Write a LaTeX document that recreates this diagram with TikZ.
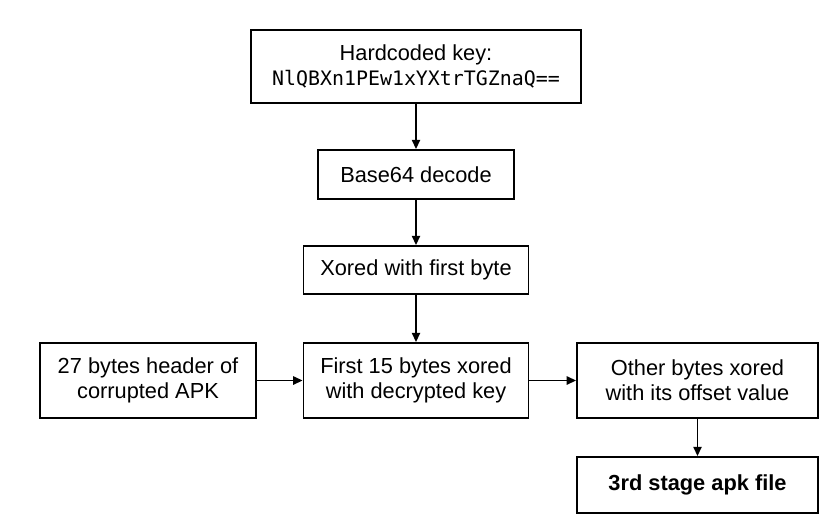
\documentclass[tikz,border=0pt]{standalone}
\usepackage{fontspec}
\setmainfont{Liberation Sans}
\newfontfamily\keyfont{DejaVu Sans Mono}
\usetikzlibrary{arrows.meta,positioning}

\begin{document}
\begin{tikzpicture}[x=0.03cm,y=-0.03cm,
	box/.style={draw,line width=1.5pt,align=center,inner sep=0pt,font=\fontsize{18.6}{21.5}\selectfont},
	flow/.style={-{Triangle[length=8pt,width=7pt]},line width=1.5pt}]
	\useasboundingbox (0,0) rectangle (835,524);

	\node[box,minimum width=9.9cm,minimum height=2.19cm] (key) at (416,66.5) {Hardcoded key:\\{\keyfont\fontsize{17}{21.5}\selectfont NlQBXn1PEw1xYXtrTGZnaQ==}};
	\node[box,minimum width=5.88cm,minimum height=1.47cm] (b64) at (416,174.5) {Base64 decode};
	\node[box,minimum width=6.75cm,minimum height=1.44cm] (xor1) at (416,270) {Xored with first byte};
	\node[box,minimum width=6.75cm,minimum height=2.25cm] (first15) at (416,380.5) {First 15 bytes xored\\with decrypted key};
	\node[box,minimum width=6.48cm,minimum height=2.25cm] (hdr) at (148,380.5) {27 bytes header of\\corrupted APK};
	\node[box,minimum width=7.23cm,minimum height=2.25cm] (other) at (697.5,380.5) {Other bytes xored\\with its offset value};
	\node[box,minimum width=7.23cm,minimum height=1.68cm] (apk) at (697.5,485) {\bfseries 3rd stage apk file};

	\draw[flow] (key) -- (b64);
	\draw[flow] (b64) -- (xor1);
	\draw[flow] (xor1) -- (first15);
	\draw[flow] (hdr) -- (first15);
	\draw[flow] (first15) -- (other);
	\draw[flow] (other) -- (apk);
\end{tikzpicture}
\end{document}
